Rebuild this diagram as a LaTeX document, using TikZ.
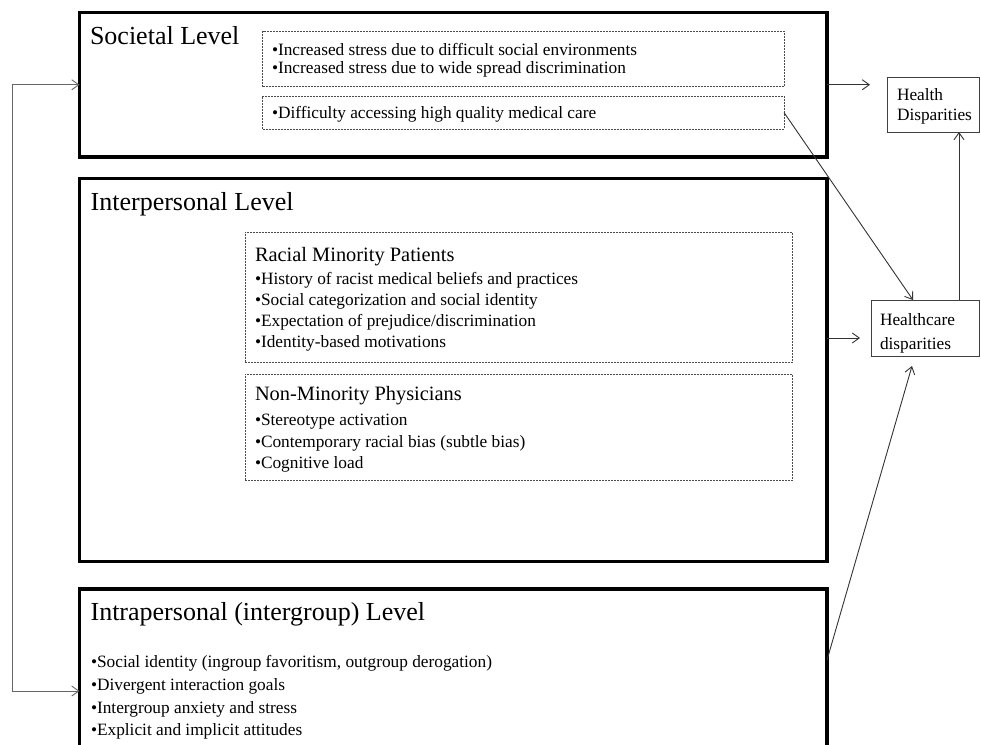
\documentclass[tikz,border=0pt]{standalone}
\usepackage{fontspec}
\setmainfont{Liberation Serif}
\usetikzlibrary{arrows.meta}

\begin{document}
\begin{tikzpicture}[
	x=1pt, y=-1pt,
	>={Straight Barb[length=7pt,width=10pt]},
	every node/.style={inner sep=0pt, outer sep=0pt},
	levelbox/.style={draw, line width=3.5pt, anchor=north west},
	dashbox/.style={draw=black!70, line width=0.9pt, dash pattern=on 2pt off 1pt, anchor=north west},
	outbox/.style={draw=black!75, line width=1pt, anchor=north west, align=left},
	leveltitle/.style={anchor=base west, font=\fontsize{26}{30}\selectfont},
	grouptitle/.style={anchor=base west, font=\fontsize{20.4}{24}\selectfont},
	items/.style={anchor=north west, align=left, font=\fontsize{17.3}{#1}\selectfont},
	link/.style={->, draw=black!80, line width=0.9pt}
	]
\useasboundingbox (0,0) rectangle (981,744);

% the three levels
\node[levelbox, minimum width=747.5pt, minimum height=144.5pt] (soc) at (79.5,12.5) {};
\node[levelbox, minimum width=747.5pt, minimum height=383pt] (inter) at (79.5,178.5) {};
\node[levelbox, minimum width=747.5pt, minimum height=204pt] (intra) at (79.5,589) {};

% dashed groups
\node[dashbox, minimum width=521.3pt, minimum height=55.7pt] (stress) at (262.7,31) {};
\node[dashbox, minimum width=521.3pt, minimum height=33pt] (care) at (262.7,96) {};
\node[dashbox, minimum width=547.7pt, minimum height=130pt] (rmp) at (245,232) {};
\node[dashbox, minimum width=547.7pt, minimum height=106pt] (nmp) at (245,374.3) {};

% outcomes
\node[outbox, items=20, anchor=north west, minimum width=92pt, minimum height=55pt,
	inner xsep=10pt, text width=72pt] (hd) at (887,77) {\rule{0pt}{16pt}Health\\Disparities};
\node[outbox, items=24, anchor=north west, minimum width=108pt, minimum height=56pt,
	inner xsep=9pt, text width=90pt] (hc) at (871,300) {\rule{0pt}{23pt}Healthcare\\disparities};

% texts
\node[leveltitle] (soct) at (90,44) {Societal Level};
\node[items=18] (stresst) at (272,43.2) {•Increased stress due to difficult social environments\\•Increased stress due to wide spread discrimination};
\node[items=17] (caret) at (272,106.2) {•Difficulty accessing high quality medical care};

\node[leveltitle] (intert) at (90.7,210.7) {Interpersonal Level};
\node[grouptitle] (rmpt) at (255,261.7) {Racial Minority Patients};
\node[items=21] (rmpi) at (255,272.2) {•History of racist medical beliefs and practices\\•Social categorization and social identity\\•Expectation of prejudice/discrimination\\•Identity-based motivations};
\node[grouptitle] (nmpt) at (255,400.7) {Non-Minority Physicians};
\node[items=21.5] (nmpi) at (255,414.2) {•Stereotype activation\\•Contemporary racial bias (subtle bias)\\•Cognitive load};

\node[leveltitle] (intrat) at (90.6,620) {Intrapersonal (intergroup) Level};
\node[items=22.7] (intrai) at (91,655.7) {•Social identity (ingroup favoritism, outgroup derogation)\\•Divergent interaction goals\\•Intergroup anxiety and stress\\•Explicit and implicit attitudes};

% connectors
\coordinate (hcin) at ([yshift=-10pt]hc.west);
\draw[link, shorten >=17pt] (soc.east) -- (soc.east -| hd.west);
\draw[link, shorten >=11pt] (inter.east |- hcin) -- (hcin);
\draw[link] (care.east) -- ([xshift=42pt]hc.north west);
\draw[link] ([yshift=-71pt]intra.north east) -- ([xshift=41pt,yshift=-10pt]hc.south west);
\draw[link] ([xshift=-20pt]hc.north east) -- ([xshift=-20pt]hd.south east);
\draw[link, <->, draw=black!60] (soc.west) -- ++(-67.5,0) |- (intra.west);
\end{tikzpicture}
\end{document}
